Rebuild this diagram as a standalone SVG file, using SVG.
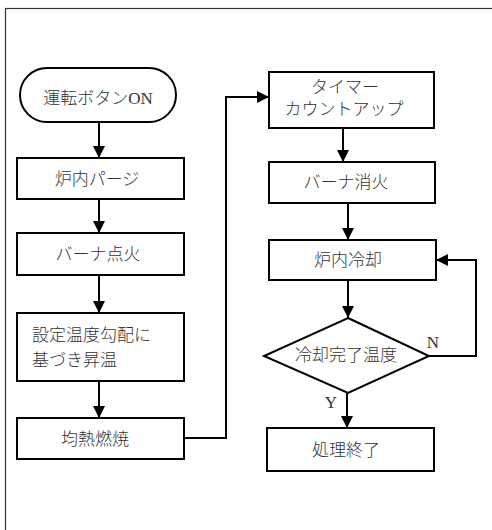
<svg xmlns="http://www.w3.org/2000/svg" width="492" height="530" viewBox="0 0 492 530">
<style>
.box{fill:#fff;stroke:#000;stroke-width:2}
.frame{fill:none;stroke:#333;stroke-width:1.2}
.ln{fill:none;stroke:#000;stroke-width:2}
.t{font-family:"Liberation Serif","Noto Sans CJK JP",serif;font-size:17px;font-weight:300;fill:#333;text-anchor:middle;dominant-baseline:central}
.tl{text-anchor:start}
</style>
<defs>
<marker id="ah" markerUnits="userSpaceOnUse" markerWidth="14" markerHeight="14" refX="12" refY="6" orient="auto">
<path d="M0,0 L12,6 L0,12 Z" fill="#000"/>
</marker>
</defs>
<rect class="frame" x="5.5" y="8.5" width="520" height="540"/>
<g id="connectors">
<line class="ln" x1="99" y1="122" x2="99" y2="158" marker-end="url(#ah)"/>
<line class="ln" x1="99" y1="199" x2="99" y2="233" marker-end="url(#ah)"/>
<line class="ln" x1="99" y1="275" x2="99" y2="313" marker-end="url(#ah)"/>
<line class="ln" x1="99" y1="381" x2="99" y2="418" marker-end="url(#ah)"/>
<polyline class="ln" points="184,438 226,438 226,97 269,97" marker-end="url(#ah)"/>
<line class="ln" x1="343" y1="128" x2="343" y2="162" marker-end="url(#ah)"/>
<line class="ln" x1="348" y1="203" x2="348" y2="240" marker-end="url(#ah)"/>
<line class="ln" x1="348" y1="280" x2="348" y2="318" marker-end="url(#ah)"/>
<polyline class="ln" points="429,356 476,356 476,260 436,260" marker-end="url(#ah)"/>
<line class="ln" x1="347" y1="393" x2="347" y2="428" marker-end="url(#ah)"/>
<text class="t" x="433" y="342">N</text>
<text class="t" x="331" y="402">Y</text>
</g>
<g id="start">
<rect class="box" x="20" y="68" width="156" height="54" rx="27"/>
<text class="t" x="98" y="98">運転ボタンON</text>
</g>
<g id="purge">
<rect class="box" x="17" y="158" width="167" height="41"/>
<text class="t" x="97" y="179">炉内パージ</text>
</g>
<g id="ignite">
<rect class="box" x="17" y="233" width="167" height="42"/>
<text class="t" x="98" y="254">バーナ点火</text>
</g>
<g id="heatup">
<rect class="box" x="17" y="313" width="167" height="68"/>
<text class="t tl" x="32" y="335">設定温度勾配に</text>
<text class="t tl" x="32" y="360">基づき昇温</text>
</g>
<g id="soak">
<rect class="box" x="17" y="418" width="167" height="41"/>
<text class="t" x="95" y="439">均熱燃焼</text>
</g>
<g id="timer">
<rect class="box" x="269" y="72" width="165" height="56"/>
<text class="t" x="345" y="87">タイマー</text>
<text class="t" x="344" y="109">カウントアップ</text>
</g>
<g id="extinguish">
<rect class="box" x="269" y="162" width="166" height="41"/>
<text class="t" x="346" y="182">バーナ消火</text>
</g>
<g id="cool">
<rect class="box" x="269" y="240" width="167" height="40"/>
<text class="t" x="348" y="260">炉内冷却</text>
</g>
<g id="check">
<polygon class="box" points="348,318 429,356 348,393 264,356"/>
<text class="t" x="346" y="355">冷却完了温度</text>
</g>
<g id="end">
<rect class="box" x="267" y="428" width="167" height="43"/>
<text class="t" x="346" y="450">処理終了</text>
</g>
</svg>
